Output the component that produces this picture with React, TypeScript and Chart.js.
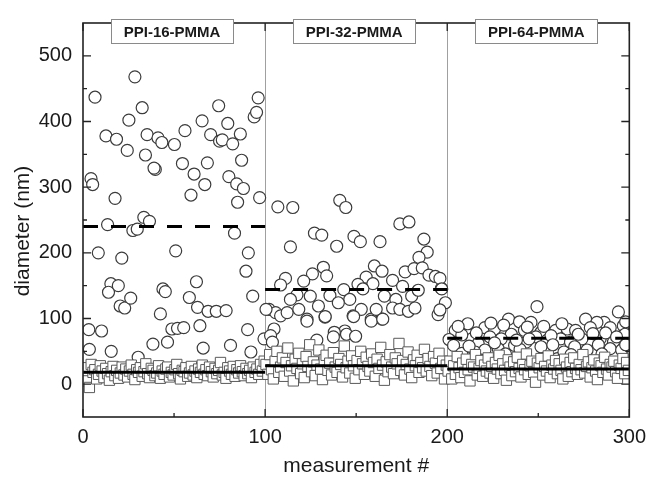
import React, { useEffect, useRef } from "react";
import { Chart, registerables } from "chart.js";

Chart.register(...registerables);

// ---- axis / labels ----
const xTickValues = [0, 100, 200, 300];
const xMinorTicks = [50, 150, 250];
const yTickValues = [0, 100, 200, 300, 400, 500];
const yMinorTicks = [50, 150, 250, 350, 450];
const separators = [100, 200];
const regionStarts = [0, 100, 200];
const regionEnds = [100, 200, 300];
const regionLabels = ["PPI-16-PMMA", "PPI-32-PMMA", "PPI-64-PMMA"];
const circleMeans = [240, 144, 70];
const squareMeans = [18, 28, 23];

// ---- circles (x = measurement #, y = diameter nm) ----
const circles16: number[][] = [
  [6.6, 437], [28.5, 468], [32.5, 421], [25.2, 402], [12.6, 378], [18.4, 373], [24.3, 356], [35.2, 380],
  [34.3, 349], [41.2, 375], [43.3, 368], [50.2, 365], [56, 386], [54.6, 336], [39.7, 327], [39, 329],
  [65.4, 401], [70.1, 380], [74.5, 424], [79.5, 397], [75, 370], [76.5, 372], [82.2, 366], [86.4, 381],
  [68.3, 337], [61, 320], [66.9, 304], [59.3, 288], [87.1, 341], [80.1, 316], [84.4, 305], [88.1, 298],
  [84.9, 277], [94, 407], [95.3, 414], [96.2, 436], [97, 284], [4.4, 313], [5.3, 304], [17.6, 283],
  [13.5, 243], [27.4, 234], [29.8, 236], [33.4, 254], [36.5, 248], [83.2, 230], [8.4, 200], [21.3, 192],
  [50.9, 203], [90.8, 200], [89.5, 172], [15.3, 153], [14, 140], [19.4, 150], [20.4, 119], [22.9, 116],
  [26.2, 131], [43.9, 145], [45.2, 141], [62.3, 156], [58.4, 132], [62.9, 117], [68.7, 111], [73.2, 111],
  [78.6, 112], [93.2, 134], [42.5, 107], [3.2, 83], [10.2, 81], [48.8, 84], [51.9, 85], [55.3, 86],
  [64.2, 89], [90.4, 83], [3.5, 53], [15.5, 50], [38.4, 61], [46.4, 64], [66, 55], [81, 59],
  [92.2, 49], [30.3, 41], [99.4, 69],
];
const circles32: number[][] = [
  [107, 270], [115.2, 269], [141, 280], [144.3, 269], [174, 244], [179, 247], [127.1, 230], [131.1, 227],
  [148.8, 225], [152.3, 217], [163.1, 217], [113.9, 209], [139.3, 210], [187.2, 221], [189, 201], [184.5, 193],
  [132, 178], [126, 168], [133.8, 165], [121.2, 157], [111.2, 161], [108.5, 151], [160, 180], [164.2, 172],
  [155.5, 163], [170, 158], [176.9, 171], [181.8, 176], [186.3, 177], [190, 166], [193.5, 164], [151, 152],
  [159.2, 153], [143.2, 144], [117.5, 136], [124.8, 134], [113.9, 129], [135.6, 135], [146.5, 129], [153.7, 145],
  [165.5, 134], [171.8, 129], [175.5, 149], [180.5, 134], [184.1, 143], [196.8, 146], [199, 124], [195, 106],
  [102.2, 114], [105.8, 109], [108.5, 104], [112.1, 109], [118.5, 114], [123, 99], [129.3, 119], [132.9, 102],
  [140.2, 124], [148.3, 104], [152.8, 114], [158.3, 99], [164.2, 99], [161, 114], [170, 116], [174, 114],
  [178.7, 111], [182.3, 116], [104.9, 84], [143.8, 81], [138, 79], [103, 74], [104, 64], [128.4, 67],
  [137.5, 72], [144.7, 76], [149.7, 73], [123, 96], [133, 103], [148.6, 103], [158.3, 96], [164.6, 99],
  [196, 161], [197, 145], [196, 113], [100.5, 114],
];
const circles64: number[][] = [
  [249.3, 118], [294, 110], [276, 99], [211.3, 92], [233.7, 99], [246, 94], [239.7, 95], [286.2, 94],
  [282.2, 94], [220.7, 86], [226, 84], [204.4, 82], [201, 68], [235.2, 76], [242.4, 82], [251.5, 79],
  [259.6, 82], [265.9, 84], [270.5, 82], [278.6, 86], [289.5, 86], [296.7, 89], [213.5, 69], [208, 75],
  [217, 62], [223.4, 72], [229.7, 69], [237, 59], [243.3, 64], [248.7, 72], [255, 67], [262.3, 69],
  [267.7, 64], [274, 69], [284, 69], [291.3, 64], [297.6, 76], [203.5, 59], [208, 47], [215.3, 49],
  [220.7, 52], [228, 54], [251.5, 57], [260.5, 39], [264.1, 49], [276.8, 52], [289.5, 54], [295.8, 52],
  [218, 37], [240, 53], [206, 88], [231, 90], [253, 88], [257, 74], [272, 76], [280, 77],
  [287, 78], [293, 72], [298, 60], [212, 58], [226, 63], [245, 69], [258, 60], [270, 57],
  [283, 60], [298, 95], [244, 87], [263, 92], [224, 93], [216, 78], [238, 67], [285, 46],
  [232, 46], [268, 45],
];

// ---- squares (y values, in measurement order within each sample) ----
const squares16 = [
  12, 25, 5, -5, 30, 18, 22, 8, 15, 28, 20, 10, 24, 16, 6, 19, 27, 13, 21, 9,
  17, 26, 14, 23, 11, 20, 29, 15, 7, 22, 18, 25, 12, 19, 31, 16, 10, 24, 21, 13,
  17, 28, 9, 20, 15, 23, 26, 11, 18, 14, 22, 30, 16, 8, 21, 19, 25, 12, 17, 27,
  14, 20, 10, 23, 18, 29, 15, 22, 13, 26, 19, 11, 24, 16, 21, 33, 14, 18, 9, 25,
  20, 15, 27, 12, 22, 17, 28, 19, 13, 24, 16, 21, 10, 26, 18, 23, 15, 30, 20, 35,
];
const squares32 = [
  30, 15, 45, 22, 8, 35, 50, 18, 26, 40, 12, 33, 55, 20, 28, 5, 38, 24, 47, 16,
  31, 10, 42, 27, 60, 19, 34, 13, 29, 52, 23, 7, 37, 44, 21, 32, 14, 48, 26, 18,
  39, 30, 11, 58, 25, 35, 17, 43, 28, 9, 36, 22, 50, 31, 15, 41, 27, 20, 46, 33,
  12, 38, 24, 56, 29, 6, 34, 19, 45, 26, 16, 40, 31, 62, 21, 36, 14, 30, 49, 23,
  10, 37, 28, 44, 18, 33, 25, 53, 20, 39, 27, 13, 42, 32, 17, 47, 24, 35, 8, 29,
];
const squares64 = [
  20, 35, 8, 28, 15, 42, 25, 10, 32, 18, 38, 22, 5, 30, 26, 45, 14, 24, 36, 12,
  29, 20, 40, 17, 27, 9, 33, 23, 44, 16, 31, 21, 6, 37, 26, 13, 34, 19, 41, 24,
  11, 30, 22, 46, 15, 28, 35, 18, 3, 32, 25, 39, 14, 27, 20, 43, 10, 29, 23, 36,
  16, 31, 21, 8, 38, 26, 12, 33, 19, 40, 24, 15, 30, 22, 45, 17, 27, 34, 11, 25,
  37, 20, 7, 32, 28, 18, 41, 23, 14, 30, 26, 35, 19, 9, 29, 24, 39, 16, 33, 21,
];

const FONT = "'Liberation Sans', Arial, Helvetica, sans-serif";
const TEXT = "#1a1a1a";

const toPts = (arr: number[][]) => arr.map(([x, y]) => ({ x, y }));
const sqPts = (arr: number[], start: number) =>
  arr.map((y, i) => ({ x: start + ((i + 0.5) * 100) / arr.length, y }));

const decorPlugin = {
  id: "decor",
  beforeDatasetsDraw(chart: any) {
    const { ctx, chartArea, scales } = chart;
    const { top, bottom } = chartArea;
    ctx.save();
    ctx.strokeStyle = "#a0a0a0";
    ctx.lineWidth = 1;
    for (const v of separators) {
      const px = Math.round(scales.x.getPixelForValue(v)) + 0.5;
      ctx.beginPath();
      ctx.moveTo(px, top);
      ctx.lineTo(px, bottom);
      ctx.stroke();
    }
    ctx.restore();
  },
  afterDraw(chart: any) {
    const { ctx, chartArea, scales } = chart;
    const { left, right, top, bottom } = chartArea;
    const xs = scales.x;
    const ys = scales.y;
    ctx.save();
    // frame
    ctx.strokeStyle = "#222";
    ctx.lineWidth = 1.6;
    ctx.strokeRect(left, top, right - left, bottom - top);
    // ticks (inward)
    ctx.lineWidth = 1.3;
    const tick = (vals: number[], len: number) => {
      for (const v of vals) {
        const px = xs.getPixelForValue(v);
        ctx.beginPath();
        ctx.moveTo(px, bottom);
        ctx.lineTo(px, bottom - len);
        ctx.moveTo(px, top);
        ctx.lineTo(px, top + len);
        ctx.stroke();
      }
    };
    const ytick = (vals: number[], len: number) => {
      for (const v of vals) {
        const py = ys.getPixelForValue(v);
        ctx.beginPath();
        ctx.moveTo(left, py);
        ctx.lineTo(left + len, py);
        ctx.moveTo(right, py);
        ctx.lineTo(right - len, py);
        ctx.stroke();
      }
    };
    tick(xTickValues, 8);
    tick(xMinorTicks, 4);
    ytick(yTickValues, 8);
    ytick(yMinorTicks, 4);

    // region labels
    ctx.font = `bold 15px ${FONT}`;
    ctx.textAlign = "center";
    ctx.textBaseline = "middle";
    regionLabels.forEach((lab, i) => {
      const cx = xs.getPixelForValue((regionStarts[i] + regionEnds[i]) / 2) - 2;
      const w = 122;
      const h = 24;
      const bx = Math.round(cx - w / 2) + 0.5;
      const by = 19.5;
      ctx.fillStyle = "#fff";
      ctx.fillRect(bx, by, w, h);
      ctx.strokeStyle = "#8a8a8a";
      ctx.lineWidth = 1;
      ctx.strokeRect(bx, by, w, h);
      ctx.fillStyle = TEXT;
      ctx.fillText(lab, cx, by + h / 2 + 1);
    });

    // y title
    ctx.translate(23, 231);
    ctx.rotate(-Math.PI / 2);
    ctx.font = `21px ${FONT}`;
    ctx.fillStyle = TEXT;
    ctx.textAlign = "center";
    ctx.textBaseline = "middle";
    ctx.fillText("diameter (nm)", 0, 0);
    ctx.restore();
  },
};

export default function App() {
  const ref = useRef<HTMLCanvasElement | null>(null);
  useEffect(() => {
    if (!ref.current) return;
    const lineDs = (vals: number[], dash: number[] | undefined, order: number) =>
      vals.map((v, i) => ({
        type: "scatter" as const,
        data: [
          { x: regionStarts[i], y: v },
          { x: regionEnds[i], y: v },
        ],
        showLine: true,
        borderColor: "#000",
        borderWidth: 3,
        borderDash: dash || [],
        pointRadius: 0,
        order,
      }));
    const chart = new Chart(ref.current, {
      type: "scatter",
      data: {
        datasets: [
          ...lineDs(squareMeans, undefined, 0),
          {
            data: [...sqPts(squares16, 0), ...sqPts(squares32, 100), ...sqPts(squares64, 200)],
            pointStyle: "rect",
            pointRadius: 7.3,
            backgroundColor: "#ffffff",
            borderColor: "#5a5a5a",
            borderWidth: 1,
            order: 1,
          },
          ...lineDs(circleMeans, [15, 13], 2),
          {
            data: [...toPts(circles16), ...toPts(circles32), ...toPts(circles64)],
            pointStyle: "circle",
            pointRadius: 6,
            backgroundColor: "#ffffff",
            borderColor: "#3c3c3c",
            borderWidth: 1.2,
            order: 3,
          },
        ] as any,
      },
      options: {
        animation: false,
        responsive: false,
        maintainAspectRatio: false,
        layout: { padding: { top: 14, right: 18, bottom: 0, left: 0 } },
        plugins: { legend: { display: false }, tooltip: { enabled: false } },
        scales: {
          x: {
            type: "linear",
            position: "bottom",
            min: 0,
            max: 300,
            afterBuildTicks: (s: any) => {
              s.ticks = xTickValues.map((v) => ({ value: v }));
            },
            afterFit: (s: any) => {
              s.height = 63;
            },
            grid: { display: false, drawTicks: false },
            border: { display: false },
            ticks: { padding: 8, color: TEXT, font: { family: FONT, size: 20 } },
            title: {
              display: true,
              text: "measurement #",
              color: TEXT,
              font: { family: FONT, size: 21 },
              padding: { top: 0, bottom: 1 },
            },
          },
          y: {
            type: "linear",
            min: -50,
            max: 550,
            afterBuildTicks: (s: any) => {
              s.ticks = yTickValues.map((v) => ({ value: v }));
            },
            afterFit: (s: any) => {
              s.width = 83;
            },
            grid: { display: false, drawTicks: false },
            border: { display: false },
            ticks: { padding: 11, color: TEXT, font: { family: FONT, size: 20 } },
            title: { display: false },
          },
        },
      },
      plugins: [decorPlugin],
    } as any);
    return () => chart.destroy();
  }, []);
  return (
    <div style={{ position: "absolute", left: 0, top: 0, width: 654, height: 480, background: "#fff" }}>
      <canvas ref={ref} width={654} height={480} style={{ width: 654, height: 480, display: "block" }} />
    </div>
  );
}
